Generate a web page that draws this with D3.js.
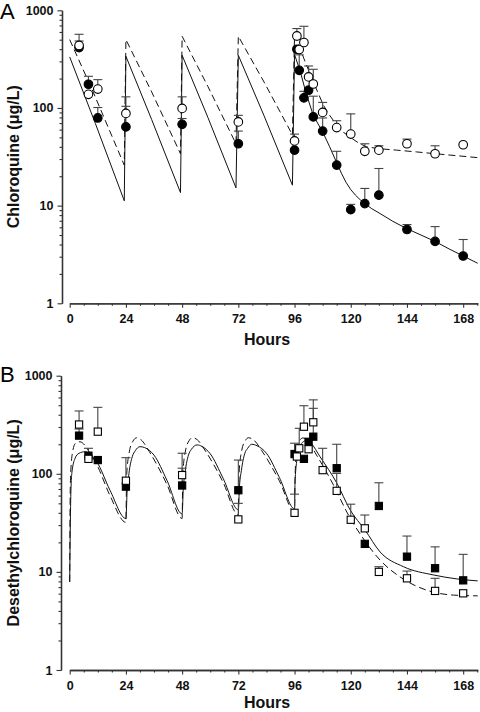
<!DOCTYPE html>
<html><head><meta charset="utf-8">
<script src="https://cdn.jsdelivr.net/npm/d3@7"></script>
<style>body{margin:0;background:#fff}svg{display:block;font-family:Arial,"Liberation Sans",Helvetica,sans-serif}</style>
</head><body><svg id="c" width="480" height="712"></svg>
<script>
// ---------- data ----------
const hourTicks = [0, 24, 48, 72, 96, 120, 144, 168];
const concTicks = [1, 10, 100, 1000];
const concTickLabels = ["1", "10", "100", "1000"];

// Panel A: chloroquine  [hours, mean, upper error]
const cqFilled = [[4,415,485],[8,175,211],[12,79,101],[24,64,104],[48,68,78],[72,43,58],[96,37,null],[97,399,null],[98,243,350],[100,127,148],[102,152,null],[104,81,132],[108,58,79],[114,26,36],[120,9.1,10.3],[126,10.5,15],[132,12.8,24],[144,5.7,6.4],[156,4.3,6.1],[168,3.05,4.5]];
const cqOpen = [[4,437,568],[8,138,null],[12,156,195],[24,88,130],[48,99,130],[72,72,84],[96,46,54],[97,546,650],[98,396,null],[100,468,686],[102,208,269],[104,176,249],[108,90,114],[114,63,74],[120,54,87],[126,36,43],[132,37,41],[144,43,48],[156,34,41],[168,42,null]];
const cqSolidFit = [[0,333],[11,69],[23.3,11.2],[24,338],[35,76],[47.3,13.6],[48,346],[59,80],[71,15.2],[72,346],[83,83],[95.1,16.2],[96,352],[98.3,243],[101,140],[104,84],[108.3,55],[111,40],[114,27.5],[116,21.5],[118,17.3],[120,14.6],[122,12.8],[124,11.5],[126,10.5],[129,9.3],[132.5,8.3],[138,6.9],[144,5.8],[150,5.0],[156,4.3],[162,3.6],[168,3.05],[174.2,2.57]];
const cqDashedFit = [[0,501],[10,146],[23.3,26],[24,501],[35,146],[47.3,34],[48,542],[59,166],[71,43],[72,542],[83,184],[95.1,53],[96,560],[98.4,406],[100,320],[104,185],[108.3,107],[111,84],[114,67],[117,56],[120.4,49],[123.5,43.5],[126.8,40],[132,38.3],[139.6,37],[148,35.5],[156,34],[165,32.5],[174.2,31]];

// Panel B: desethylchloroquine
const dcqFilled = [[4,245,286],[8,153,182],[12,138,null],[24,74,null],[48,76,114],[72,68,138],[96,159,205],[100,142,null],[102,212,null],[104,239,465],[114,114,200],[126,19.3,null],[132,47,81],[144,14.3,23.2],[156,10.9,18],[168,8.2,15.1]];
const dcqOpen = [[4,318,437],[8,142,null],[12,269,476],[24,85,146],[48,97,162],[72,34.3,50],[96,40,62],[97,150,null],[98,182,291],[100,302,494],[102,178,null],[104,335,567],[108,109,182],[114,67,101],[120,34,49],[126,27.8,38],[132,10,11.3],[144,8.6,10.2],[156,6.4,8.6],[168,6.05,null]];
const dcqSolidFit = [[0,7.9],[0.4,50],[0.9,101],[2.3,144],[4,162],[6.6,168],[9,155],[11.5,133],[17.2,68],[24,35],
  [24.5,65],[25.3,101],[26.7,149],[28,172],[30,189],[32,185],[36,155],[41.5,86],[48,39],
  [48.5,70],[49.3,105],[50.7,155],[52,178],[54.4,197],[56.5,190],[60,160],[65.5,90],[72,43],
  [72.5,75],[73.3,108],[74.7,160],[76,182],[77.7,200],[80,193],[84,162],[89.5,92],[96,44],
  [96.2,80],[96.9,133],[98.3,190],[99.5,210],[101.2,218],[103,205],[106.9,149],[114.1,80],[119.7,43],[126.1,26.7],[132.5,16],[142.5,11.3],[155.4,9.3],[165,8.5],[174.2,8.1]];
const dcqDashedFit = [[0,7.9],[0.2,60],[0.5,110],[1.3,170],[2.5,205],[4.4,212],[6.5,195],[8.5,165],[11.5,125],[17.2,60],[24,32],
  [24.3,95],[25.5,170],[27,215],[28.6,233],[30.5,222],[34,168],[41.5,78],[48,35],
  [48.3,100],[49.5,175],[51,218],[52.4,233],[54.5,222],[58,170],[65.5,82],[72,38],
  [72.3,100],[73.5,175],[75,218],[76.3,233],[78.5,222],[82,172],[89.5,85],[96,41],
  [96.2,90],[96.8,160],[98,215],[99.5,232],[101,225],[105.4,155],[112.6,77],[119,38],[124.7,23],[132.5,13.2],[141,8.9],[152.5,6.5],[163.9,5.8],[174.2,5.7]];

// ---------- drawing ----------
const svg = d3.select("#c");
const panels = [
  {letter:"A", title:"Chloroquine (\u03bcg/L)", yAxisX:62, yTop:10.3, yBot:303.3, letterY:19, titleY:345,
   filled:cqFilled, open:cqOpen, solid:cqSolidFit, dashed:cqDashedFit, shape:"circle", curve:d3.curveLinear},
  {letter:"B", title:"Desethylchloroquine (\u03bcg/L)", yAxisX:61, yTop:375.7, yBot:670, letterY:382, titleY:708,
   filled:dcqFilled, open:dcqOpen, solid:dcqSolidFit, dashed:dcqDashedFit, shape:"square", curve:d3.curveMonotoneX}
];
const axisColor = "#333";

panels.forEach(p => {
  const x = d3.scaleLinear().domain([0, 174.2]).range([69.7, 477.7]);
  const y = d3.scaleLog().domain([1, 1000]).range([p.yBot, p.yTop]);
  const g = svg.append("g");

  // minor ticks
  const xMinor = d3.range(6, 175, 6).filter(v => v % 24 !== 0);
  const yMinor = [];
  [1,10,100].forEach(d => { for (let k=2;k<=9;k++) yMinor.push(d*k); });

  const xAxisMinor = g.append("g").attr("transform", `translate(0,${p.yBot})`)
    .call(d3.axisBottom(x).tickValues(xMinor).tickSize(2.5).tickSizeOuter(0).tickFormat(""));
  const yAxisMinor = g.append("g").attr("transform", `translate(${p.yAxisX},0)`)
    .call(d3.axisLeft(y).tickValues(yMinor).tickSize(2.5).tickSizeOuter(0).tickFormat(""));
  const xAxis = g.append("g").attr("transform", `translate(0,${p.yBot})`)
    .call(d3.axisBottom(x).tickValues(hourTicks).tickSize(4.5).tickPadding(6.5).tickSizeOuter(0).tickFormat(d3.format("d")));
  const yAxis = g.append("g").attr("transform", `translate(${p.yAxisX},0)`)
    .call(d3.axisLeft(y).tickValues(concTicks).tickSize(4.5).tickPadding(4).tickSizeOuter(0).tickFormat((d,i) => concTickLabels[i]));
  [xAxisMinor, yAxisMinor, xAxis, yAxis].forEach(a => {
    a.select(".domain").attr("stroke", axisColor).attr("stroke-width", 1.3);
    a.selectAll(".tick line").attr("stroke", axisColor).attr("stroke-width", 1.1);
    a.selectAll("text").attr("font-family", "Arial, 'Liberation Sans', sans-serif")
      .attr("font-size", 12.5).attr("font-weight", "bold").attr("fill", "#111");
  });

  // curves
  const line = d3.line().x(d => x(d[0])).y(d => y(d[1])).curve(p.curve);
  g.append("path").datum(p.solid).attr("d", line).attr("fill", "none").attr("stroke", "#111").attr("stroke-width", 1);
  g.append("path").datum(p.dashed).attr("d", line).attr("fill", "none").attr("stroke", "#111").attr("stroke-width", 1).attr("stroke-dasharray", "7,4");

  // error bars
  const errs = p.filled.concat(p.open).filter(d => d[2] != null);
  const eg = g.append("g").attr("stroke", "#444").attr("stroke-width", 1.1);
  eg.selectAll("line.v").data(errs).join("line").attr("class","v")
    .attr("x1", d => x(d[0])).attr("x2", d => x(d[0])).attr("y1", d => y(d[1])).attr("y2", d => y(d[2]));
  eg.selectAll("line.c").data(errs).join("line").attr("class","c")
    .attr("x1", d => x(d[0]) - 4.5).attr("x2", d => x(d[0]) + 4.5).attr("y1", d => y(d[2])).attr("y2", d => y(d[2]));

  // markers
  const drawMarkers = (data, fill) => {
    if (p.shape === "circle") {
      g.append("g").selectAll("circle").data(data).join("circle")
        .attr("cx", d => x(d[0])).attr("cy", d => y(d[1])).attr("r", 4.3)
        .attr("fill", fill).attr("stroke", "#000").attr("stroke-width", 1.1);
    } else {
      g.append("g").selectAll("rect").data(data).join("rect")
        .attr("x", d => x(d[0]) - 3.6).attr("y", d => y(d[1]) - 3.6).attr("width", 7.2).attr("height", 7.2)
        .attr("fill", fill).attr("stroke", "#000").attr("stroke-width", 1.1);
    }
  };
  drawMarkers(p.filled, "#000");
  drawMarkers(p.open, "#fff");

  // labels
  svg.append("text").attr("x", 0).attr("y", p.letterY).attr("font-size", 22).attr("fill", "#000").text(p.letter);
  svg.append("text").attr("transform", `translate(19,${(p.yTop + p.yBot) / 2}) rotate(-90)`)
    .attr("text-anchor", "middle").attr("font-size", 16).attr("font-weight", "bold").attr("fill", "#111").text(p.title);
  svg.append("text").attr("x", 267).attr("y", p.titleY).attr("text-anchor", "middle")
    .attr("font-size", 16).attr("font-weight", "bold").attr("fill", "#111").text("Hours");
});
</script></body></html>
